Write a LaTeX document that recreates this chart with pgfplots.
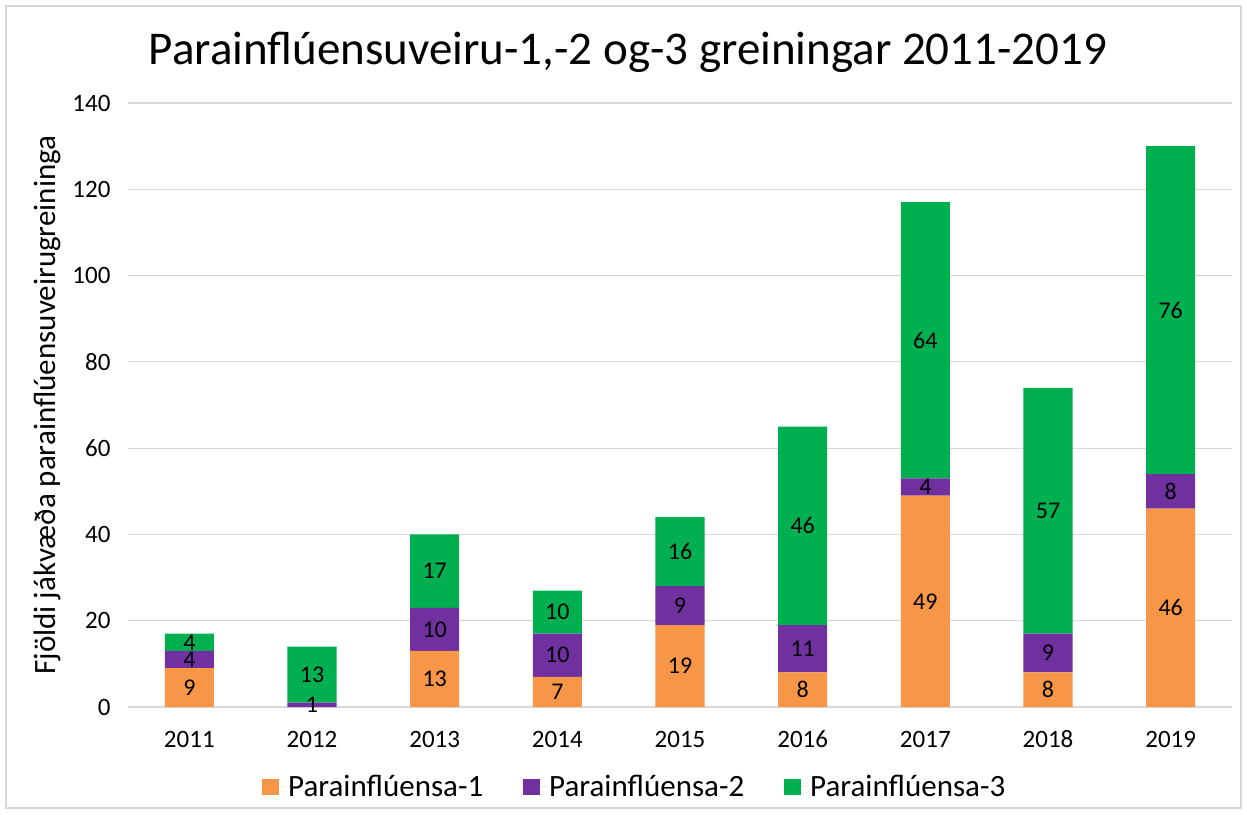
\documentclass[border=0pt]{standalone}
\usepackage{pgfplots}
\pgfplotsset{compat=1.18}
\usepackage{pgfplotstable}
\usepackage{fontspec}
\setmainfont{Carlito}
\definecolor{pA}{HTML}{F79646}
\definecolor{pB}{HTML}{7030A0}
\definecolor{pC}{HTML}{00B050}
\definecolor{gridc}{HTML}{D9D9D9}

\pgfplotstableread{
x a b c
0 9 4 4
1 0 1 13
2 13 10 17
3 7 10 10
4 19 9 16
5 8 11 46
6 49 4 64
7 8 9 57
8 46 8 76
}\datatable

\begin{document}
\begin{tikzpicture}[x=1pt,y=1pt]
\useasboundingbox (0,0) rectangle (1247,-814);
\draw[gridc, line width=1.2pt] (6,-6) rectangle (1241,-808);
\node[font=\fontsize{47}{56}\selectfont] at (628,-52) {Parainflúensuveiru-1,-2 og-3 greiningar 2011-2019};
\node[rotate=90, font=\fontsize{31}{36}\selectfont] at (47,-405) {Fjöldi jákvæða parainflúensuveirugreininga};
\begin{axis}[
  at={(128pt,-707pt)}, anchor=south west, scale only axis,
  width=1104pt, height=604pt,
  ybar stacked, bar width=0.4,
  xmin=-0.5, xmax=8.5, ymin=0, ymax=140, ytick={0,20,...,140},
  xtick={0,...,8}, xticklabels={2011,2012,2013,2014,2015,2016,2017,2018,2019},
  enlargelimits=false,
  /pgf/number format/assume math mode=true,
  axis line style={draw=none},
  major tick length=0pt,
  ymajorgrids, grid style={gridc, line width=1.2pt},
  tick label style={font=\fontsize{25}{30}\selectfont, text=black},
  yticklabel style={xshift=-14pt},
  xticklabel style={anchor=base, yshift=-40pt},
  point meta=explicit,
  nodes near coords={\pgfmathfloatifflags{\pgfplotspointmeta}{0}{}{\pgfmathprintnumber{\pgfplotspointmeta}}},
  nodes near coords align={center},
  every node near coord/.append style={font=\fontsize{24}{28}\selectfont, text=black, anchor=center},
  legend style={at={(0.459,-0.132)}, anchor=center, legend columns=-1, draw=none,
    font=\fontsize{31}{36}\selectfont,
    /tikz/every even column/.append style={column sep=38pt}},
  legend image code/.code={\fill[#1] (0pt,-8pt) rectangle (17pt,8pt); \path (17pt,0pt) -- (24pt,0pt);},
]
\addplot[fill=pA, draw=none] table[x=x, y=a, meta=a] {\datatable};
\addplot[fill=pB, draw=none] table[x=x, y=b, meta=b] {\datatable};
\addplot[fill=pC, draw=none] table[x=x, y=c, meta=c] {\datatable};
\legend{Parainflúensa-1, Parainflúensa-2, Parainflúensa-3}
\end{axis}
\end{tikzpicture}
\end{document}
